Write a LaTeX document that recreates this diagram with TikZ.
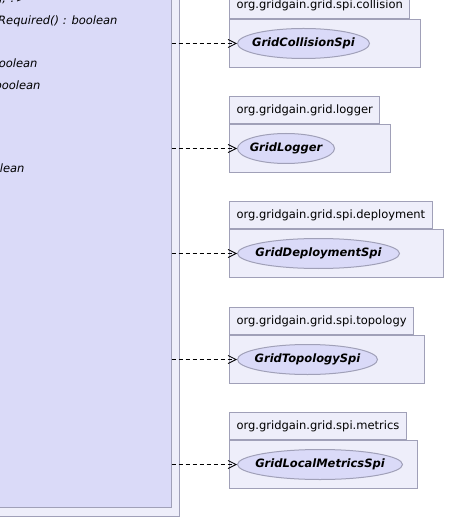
\documentclass[tikz,border=0pt]{standalone}
\usepackage{fontspec}
\setmainfont{DejaVu Sans}[ItalicFont={DejaVu Sans Oblique},BoldItalicFont={DejaVu Sans Bold Oblique}]
\usetikzlibrary{shapes.geometric,arrows.meta,positioning}
\definecolor{pkgfill}{RGB}{238,238,250}
\definecolor{clsfill}{RGB}{218,218,248}
\definecolor{umlline}{RGB}{160,160,184}
\newcommand{\spiname}[1]{\makebox[0pt]{\bfseries\itshape #1}}

\begin{document}
\begin{tikzpicture}
[x=1pt,y=-1pt,line width=1pt,%
  every node/.style={inner sep=0pt,font=\fontsize{11.5}{13}\selectfont},%
  pkg/.style={draw=umlline,fill=pkgfill,rectangle,anchor=north west,minimum height=48pt},%
  tab/.style={draw=umlline,fill=pkgfill,rectangle,anchor=south west,inner xsep=7pt,minimum height=27pt},%
  spi/.style={ellipse,draw=umlline,fill=clsfill,minimum height=30pt},%
  member/.style={anchor=east,font=\fontsize{11.5}{13}\selectfont\itshape},%
  dep/.style={dash pattern=on 4pt off 3pt,line width=0.8pt,-{Straight Barb[length=8pt,width=8pt]}}]
\useasboundingbox (0,0) rectangle (462,518);
\clip (0,0) rectangle (462,518);
% outer package and the class
\draw[draw=umlline,fill=pkgfill] (-40,-40) rectangle (179.5,516);
\node[draw=umlline,fill=clsfill,anchor=south east,minimum width=220pt,minimum height=560pt]
  (grid) at (171.5,508) {};
\node[member] (m0) at (26,-1) {g, ?>};
\node[member] (m1) at (118,21) {Required() : boolean};
\node[member] (m2) at (38,63) {oolean};
\node[member] (m3) at (41,85) {boolean};
\node[member] (m4) at (25,168) {lean};
% collision
\node[pkg,minimum width=191pt] (pcol) at (229,19) {};
\node[tab] (tcol) at (pcol.north west) {org.gridgain.grid.spi.collision};
\node[spi,minimum width=132pt,right=8pt of pcol.west] (col) {\spiname{GridCollisionSpi}};
% logger
\node[pkg,minimum width=161pt] (plog) at (229,124) {};
\node[tab] (tlog) at (plog.north west) {org.gridgain.grid.logger};
\node[spi,minimum width=97pt,right=8pt of plog.west] (log) {\spiname{GridLogger}};
% deployment
\node[pkg,minimum width=214pt] (pdep) at (229,229) {};
\node[tab] (tdep) at (pdep.north west) {org.gridgain.grid.spi.deployment};
\node[spi,minimum width=162pt,right=8pt of pdep.west] (depl) {\spiname{GridDeploymentSpi}};
% topology
\node[pkg,minimum width=195pt] (ptop) at (229,335) {};
\node[tab] (ttop) at (ptop.north west) {org.gridgain.grid.spi.topology};
\node[spi,minimum width=140pt,right=8pt of ptop.west] (topo) {\spiname{GridTopologySpi}};
% metrics
\node[pkg,minimum width=188pt] (pmet) at (229,440) {};
\node[tab] (tmet) at (pmet.north west) {org.gridgain.grid.spi.metrics};
\node[spi,minimum width=165pt,right=8pt of pmet.west] (met) {\spiname{GridLocalMetricsSpi}};
% dependencies
\draw[dep] (col -| grid.east) -- (col);
\draw[dep] (log -| grid.east) -- (log);
\draw[dep] (depl -| grid.east) -- (depl);
\draw[dep] (topo -| grid.east) -- (topo);
\draw[dep] (met -| grid.east) -- (met);
\end{tikzpicture}
\end{document}
